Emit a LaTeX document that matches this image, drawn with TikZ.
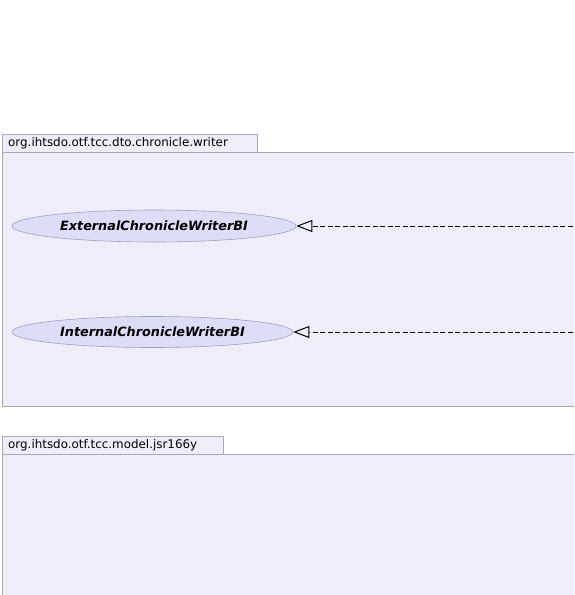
\documentclass[tikz,border=0pt]{standalone}
\usepackage{fontspec}
\setmainfont{DejaVu Sans}
\usepackage{xcolor}
\usepackage{tikz}
\usetikzlibrary{shapes.geometric,arrows.meta}
\definecolor{pkgbg}{HTML}{EEEEFB}
\definecolor{pkgline}{HTML}{A8A8B8}
\definecolor{clsbg}{HTML}{DDDDF8}
\definecolor{clsline}{HTML}{A0A0B8}
\tikzset{
  pkg/.style={draw=pkgline, fill=pkgbg, line width=0.8pt},
  pkglabel/.style={anchor=west, inner sep=0pt, font=\fontsize{11.9}{14}\selectfont},
  cls/.style={ellipse, draw=clsline, fill=clsbg, line width=0.6pt, inner sep=0pt, font=\fontsize{12.8}{15}\selectfont\bfseries\itshape},
  impl/.style={draw=black, line width=0.8pt, dash pattern=on 5pt off 2.5pt, -{Triangle[open, length=16pt, width=12pt, line width=1pt]}},
}

\begin{document}
\begin{tikzpicture}[x=1pt,y=-1pt]
  \clip (0,0) rectangle (574,595);
  \fill[white] (0,0) rectangle (574,595);

  % package chronicle.writer
  \draw[pkg] (2,152) rectangle (600,406);
  \draw[pkg] (2,134) rectangle (257,152);
  \node[pkglabel] (tabwriter) at (8,143.5) {org.ihtsdo.otf.tcc.dto.chronicle.writer};

  \node[cls,minimum width=284pt,minimum height=32pt] (external) at (154,226) {ExternalChronicleWriterBI};
  \node[cls,minimum width=281pt,minimum height=31pt] (internal) at (152.5,332) {InternalChronicleWriterBI};

  \coordinate (extfrom) at (580,226);
  \coordinate (intfrom) at (580,332);
  \draw[impl] (extfrom) -- (external.east);
  \draw[impl] (intfrom) -- (internal.east);

  % package model.jsr166y
  \draw[pkg] (2,454) rectangle (600,620);
  \draw[pkg] (2,436) rectangle (223,454);
  \node[pkglabel] (tabjsr) at (8,445.5) {org.ihtsdo.otf.tcc.model.jsr166y};
\end{tikzpicture}
\end{document}
